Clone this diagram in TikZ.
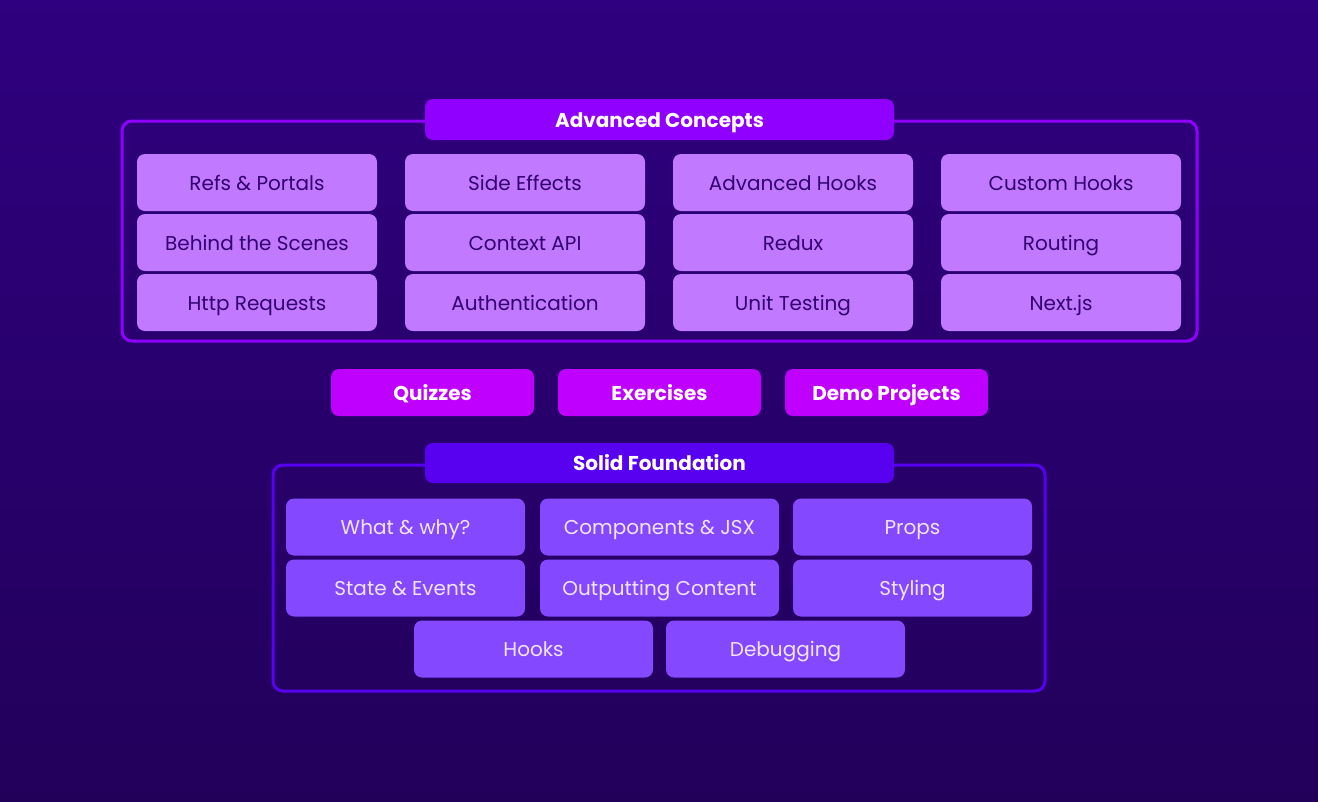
\documentclass[tikz,border=0pt]{standalone}
\usepackage{fontspec}
\setmainfont{Poppins}
\usepackage{tikz}
\usetikzlibrary{calc}

\definecolor{bgtop}{RGB}{47,0,127}
\definecolor{bgbot}{RGB}{34,0,90}
\definecolor{advedge}{RGB}{143,0,255}
\definecolor{advbox}{RGB}{193,122,255}
\definecolor{advtext}{RGB}{52,0,112}
\definecolor{extrabox}{RGB}{192,0,255}
\definecolor{baseedge}{RGB}{88,0,240}
\definecolor{basebox}{RGB}{132,72,255}
\definecolor{basetext}{RGB}{242,228,255}

\tikzset{
  tile/.style={rounded corners=8pt, inner sep=0pt, outer sep=0pt,
               minimum width=240pt, minimum height=57pt,
               text height=16pt, text depth=1pt,
               font=\fontsize{20}{20}\selectfont},
  advtile/.style={tile, fill=advbox, text=advtext},
  basetile/.style={tile, fill=basebox, text=basetext, minimum width=239pt},
  extratile/.style={tile, fill=extrabox, text=white, minimum width=203pt,
                    minimum height=47pt, font=\fontsize{20}{20}\selectfont\bfseries},
  heading/.style={tile, text=white, minimum width=469pt, minimum height=41pt,
                  font=\fontsize{20}{20}\selectfont\bfseries},
  frame/.style={line width=3pt, rounded corners=10pt}
}

\begin{document}
\begin{tikzpicture}[x=1pt,y=-1pt]
  \shade[top color=bgtop, bottom color=bgbot] (0,0) rectangle (1318,801);
  \useasboundingbox (0,0) rectangle (1318,801);

  % advanced part
  \draw[frame, draw=advedge] (122,121) rectangle (1197,341);
  \node[heading, fill=advedge] (advhead) at (659.5,119.5) {Advanced Concepts};

  \node[advtile] (refs)    at (257,182.5)  {Refs \& Portals};
  \node[advtile] (effects) at (525,182.5)  {Side Effects};
  \node[advtile] (advhooks) at (793,182.5) {Advanced Hooks};
  \node[advtile] (custom)  at (1061,182.5) {Custom Hooks};
  \node[advtile] (behind)  at (257,242.5)  {Behind the Scenes};
  \node[advtile] (context) at (525,242.5)  {Context API};
  \node[advtile] (redux)   at (793,242.5)  {Redux};
  \node[advtile] (routing) at (1061,242.5) {Routing};
  \node[advtile] (http)    at (257,302.5)  {Http Requests};
  \node[advtile] (auth)    at (525,302.5)  {Authentication};
  \node[advtile] (testing) at (793,302.5)  {Unit Testing};
  \node[advtile] (nextjs)  at (1061,302.5) {Next.js};

  % extras
  \node[extratile] (quiz)  at (432.5,392.5) {Quizzes};
  \node[extratile] (exer)  at (659.5,392.5) {Exercises};
  \node[extratile] (demo)  at (886.5,392.5) {Demo Projects};

  % foundation part
  \draw[frame, draw=baseedge] (273,465) rectangle (1045,691);
  \node[heading, fill=baseedge, minimum height=40pt] (basehead) at (659.5,463) {Solid Foundation};

  \node[basetile] (what)    at (405.5,527) {What \& why?};
  \node[basetile] (comps)   at (659.5,527) {Components \& JSX};
  \node[basetile] (props)   at (912.5,527) {Props};
  \node[basetile] (state)   at (405.5,588) {State \& Events};
  \node[basetile] (output)  at (659.5,588) {Outputting Content};
  \node[basetile] (styling) at (912.5,588) {Styling};
  \node[basetile] (hooks)   at (533.5,649) {Hooks};
  \node[basetile] (debug)   at (785.5,649) {Debugging};
\end{tikzpicture}
\end{document}
